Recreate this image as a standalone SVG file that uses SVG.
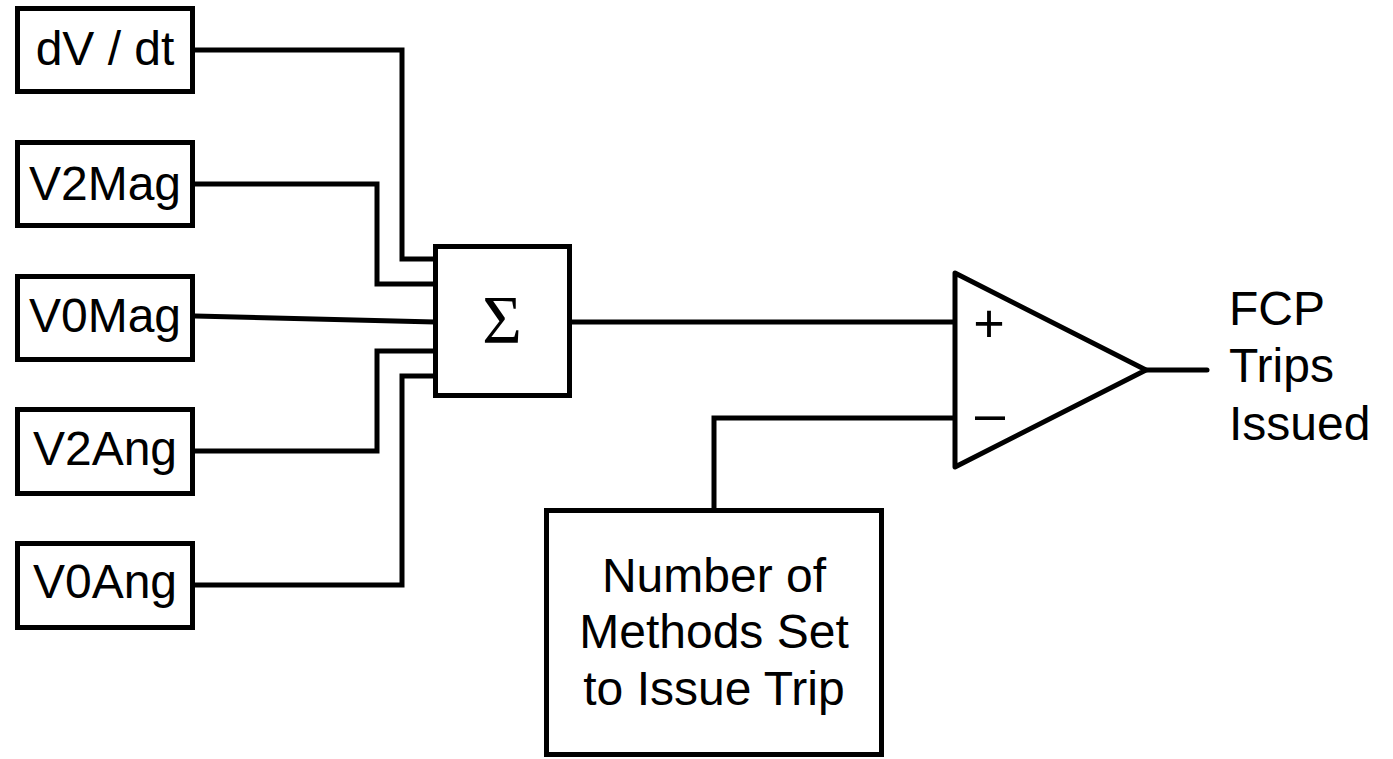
<svg xmlns="http://www.w3.org/2000/svg" width="1393" height="759" viewBox="0 0 1393 759">
<style>
.box{fill:#fff;stroke:#000;stroke-width:5}
.lbl{font-family:"Liberation Sans",Arial,sans-serif;font-size:48px;fill:#000}
.mid{text-anchor:middle}
.wire{fill:none;stroke:#000;stroke-width:5;stroke-linecap:round}
</style>
<rect width="1393" height="759" fill="#fff"/>
<g id="connectors">
<polyline class="wire" points="195,50 402,50 402,259 435,259"/>
<polyline class="wire" points="195,184 377,184 377,284 435,284"/>
<polyline class="wire" points="195,316 435,322"/>
<polyline class="wire" points="195,451 377,451 377,351 435,351"/>
<polyline class="wire" points="195,585 402,585 402,376 435,376"/>
<polyline class="wire" points="570,322 955,322"/>
<polyline class="wire" points="714,508 714,418 955,418"/>
<polyline class="wire" points="1147,370 1207,370"/>
</g>
<g id="dvdt"><rect class="box" x="17.5" y="8.5" width="175" height="83"/><text class="lbl mid" x="105" y="65">dV / dt</text></g>
<g id="v2mag"><rect class="box" x="17.5" y="142.5" width="175" height="83"/><text class="lbl mid" x="105" y="200">V2Mag</text></g>
<g id="v0mag"><rect class="box" x="17.5" y="276.5" width="175" height="83"/><text class="lbl mid" x="105" y="332">V0Mag</text></g>
<g id="v2ang"><rect class="box" x="17.5" y="409.5" width="175" height="84"/><text class="lbl mid" x="105" y="465">V2Ang</text></g>
<g id="v0ang"><rect class="box" x="17.5" y="543.5" width="175" height="84"/><text class="lbl mid" x="105" y="598">V0Ang</text></g>
<g id="sum"><rect class="box" x="435.5" y="246.5" width="134" height="149"/><text x="502" y="342" text-anchor="middle" style="font-family:'Liberation Serif','Times New Roman',serif;font-size:68px">Σ</text></g>
<g id="comparator"><polygon points="955,273 1146,370 955,467" fill="#fff" stroke="#000" stroke-width="5" stroke-linejoin="round"/>
<text x="989" y="342" text-anchor="middle" style="font-family:'Liberation Sans',Arial,sans-serif;font-size:54px">+</text>
<text x="990" y="432" text-anchor="middle" style="font-family:'Liberation Sans',Arial,sans-serif;font-size:54px">–</text></g>
<g id="threshold"><rect class="box" x="546.5" y="510.5" width="335" height="244"/>
<text class="lbl mid" x="714" y="592">Number of</text>
<text class="lbl mid" x="714" y="648">Methods Set</text>
<text class="lbl mid" x="714" y="705">to Issue Trip</text></g>
<g id="output"><text class="lbl" x="1229" y="325">FCP</text><text class="lbl" x="1229" y="382">Trips</text><text class="lbl" x="1229" y="440">Issued</text></g>
</svg>
